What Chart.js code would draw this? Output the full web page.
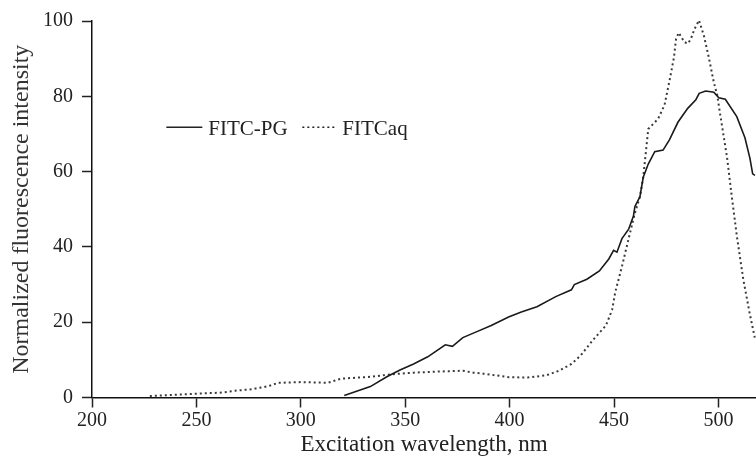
<!DOCTYPE html>
<html>
<head>
<meta charset="utf-8">
<script src="https://cdn.jsdelivr.net/npm/chart.js@4.4.1/dist/chart.umd.min.js"></script>
<style>
  html, body { margin: 0; padding: 0; background: #ffffff; }
  #wrap { width: 756px; height: 464px; position: relative; }
</style>
</head>
<body>
<div id="wrap"><canvas id="c" width="756" height="464"></canvas></div>
<script>
// Excitation wavelength (nm) and normalized intensity
const pgWavelength = [320.8,333.3,341.2,347.5,354,360.8,369.2,372.6,377.6,383.5,391.2,399.5,405.6,413.1,422.1,429.6,431,437,443,447.5,449.8,451.4,453.8,457,459.3,460,462.4,464,466.4,469.5,473.5,476.6,480.6,485.3,489.2,490.8,493.9,497.8,500.2,503.3,508.8,512.7,515.1,516.4,517.5];
const pgIntensity  = [0.5,2.9,5.5,7.3,8.9,10.8,14.0,13.6,15.9,17.3,19.1,21.4,22.7,24.1,26.8,28.6,30,31.4,33.6,36.8,39.1,38.6,42.2,44.7,48.2,50.7,53.3,58.5,62,65.3,65.7,68.5,73.1,76.8,79.1,80.8,81.4,81.1,79.6,79.2,74.6,69,63.5,59.4,59];

const aqWavelength = [227.7,236.1,252.8,262.3,268.6,276.5,284.4,289.1,300.3,312.9,319.2,333.3,344.3,354,365.8,377.6,382.6,389.4,399.5,408.6,417.6,423.6,429.6,434.1,440.1,446.1,449.1,450.6,453.8,457,460,462.4,464,466.4,471.1,474.2,476.6,478.7,479.7,481,483.7,485.3,486.8,488.4,490.7,493.1,495.4,497.8,499.4,500.9,504.1,506.4,508.8,511.9,515,517.4];
const aqIntensity  = [0.4,0.6,1.1,1.3,1.8,2.2,3.0,3.9,4.1,3.9,5.0,5.5,6.2,6.6,6.9,7.1,6.6,6.2,5.4,5.3,5.9,7.1,8.9,11.2,15.4,19.1,23.3,28,34.8,42.2,49,53.3,58.5,71.3,74,77.7,84.2,90.3,95.2,96.9,94.4,94,95.2,97.7,100.2,96,90.3,83.7,80.4,75,63.9,53.4,43,31.4,22.3,15.9];

const seriesNames = ["FITC-PG", "FITCaq"];
const xTitle = "Excitation wavelength, nm";
const yTitle = "Normalized fluorescence intensity";

const SERIF = '"Liberation Serif", "Times New Roman", "DejaVu Serif", serif';
const INK = '#222222';

function pairs(xs, ys) { return xs.map((x, i) => ({ x: x, y: ys[i] })); }

const legendPlugin = {
  id: 'inlineLegend',
  afterDraw(chart) {
    const ctx = chart.ctx;
    const xs = chart.scales.x, ys = chart.scales.y;
    const y = ys.getPixelForValue(71.8);
    const x0 = xs.getPixelForValue(235.6);
    ctx.save();
    ctx.font = '21px ' + SERIF;
    ctx.fillStyle = INK;
    ctx.textBaseline = 'middle';
    ctx.strokeStyle = INK;
    ctx.lineWidth = 1.5;
    ctx.beginPath();
    ctx.moveTo(x0, y);
    ctx.lineTo(x0 + 36, y);
    ctx.stroke();
    ctx.fillText(seriesNames[0], x0 + 42, y + 2);
    const x1 = x0 + 136;
    ctx.setLineDash([2, 3]);
    ctx.beginPath();
    ctx.moveTo(x1, y);
    ctx.lineTo(x1 + 34, y);
    ctx.stroke();
    ctx.setLineDash([]);
    ctx.fillText(seriesNames[1], x1 + 40, y + 2);
    ctx.restore();
  }
};

new Chart(document.getElementById('c'), {
  type: 'scatter',
  data: {
    datasets: [
      {
        label: seriesNames[0],
        data: pairs(pgWavelength, pgIntensity),
        showLine: true,
        borderColor: '#1a1a1a',
        borderWidth: 1.6,
        pointRadius: 0,
        tension: 0
      },
      {
        label: seriesNames[1],
        data: pairs(aqWavelength, aqIntensity),
        showLine: true,
        borderColor: '#3a3a3a',
        borderWidth: 2,
        borderDash: [2, 3],
        pointRadius: 0,
        tension: 0
      }
    ]
  },
  options: {
    responsive: false,
    animation: false,
    layout: { padding: { top: 20, right: 0, left: 0, bottom: 0 } },
    plugins: {
      legend: { display: false },
      tooltip: { enabled: false }
    },
    scales: {
      x: {
        type: 'linear',
        min: 200,
        max: 518,
        afterFit(scale) { scale.height = 66.5; },
        border: { display: true, color: '#111', width: 1.5 },
        grid: { display: true, drawOnChartArea: false, drawTicks: true, tickLength: 10, tickColor: '#222', tickWidth: 1.5 },
        ticks: {
          stepSize: 50,
          includeBounds: false,
          padding: 1,
          color: INK,
          font: { family: SERIF, size: 20 }
        },
        title: {
          display: true,
          text: xTitle,
          color: INK,
          font: { family: SERIF, size: 23 },
          padding: { top: 0, bottom: 5 }
        }
      },
      y: {
        type: 'linear',
        min: 0,
        max: 100,
        afterFit(scale) { scale.width = 92; },
        border: { display: true, color: '#111', width: 1.5 },
        grid: { display: true, drawOnChartArea: false, drawTicks: true, tickLength: 10, tickColor: '#222', tickWidth: 1.5 },
        ticks: {
          stepSize: 20,
          padding: 9,
          color: INK,
          font: { family: SERIF, size: 20 }
        },
        title: {
          display: true,
          text: yTitle,
          color: '#333',
          font: { family: SERIF, size: 24 },
          padding: { top: 7, bottom: 0 }
        }
      }
    }
  },
  plugins: [legendPlugin]
});
</script>
</body>
</html>
